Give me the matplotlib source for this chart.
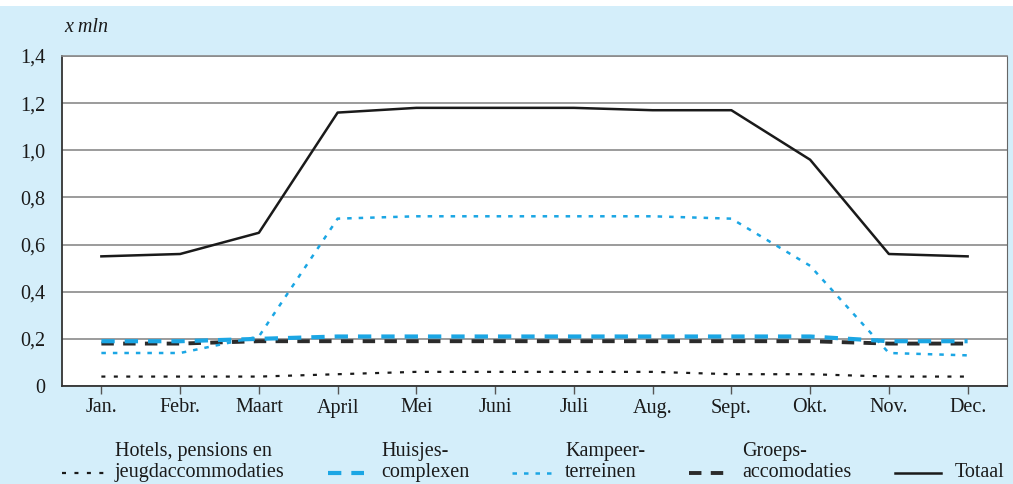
import numpy as np
import matplotlib.pyplot as plt
from matplotlib.lines import Line2D
from matplotlib.patches import Rectangle

# data (x mln)
months = ['Jan.', 'Febr.', 'Maart', 'April', 'Mei', 'Juni', 'Juli',
          'Aug.', 'Sept.', 'Okt.', 'Nov.', 'Dec.']
hotels = [0.04, 0.04, 0.04, 0.05, 0.06, 0.06, 0.06, 0.06, 0.05, 0.05, 0.04, 0.04]
huisjes = [0.19, 0.19, 0.20, 0.21, 0.21, 0.21, 0.21, 0.21, 0.21, 0.21, 0.19, 0.19]
kampeer = [0.14, 0.14, 0.21, 0.71, 0.72, 0.72, 0.72, 0.72, 0.71, 0.51, 0.14, 0.13]
groeps = [0.18, 0.18, 0.19, 0.19, 0.19, 0.19, 0.19, 0.19, 0.19, 0.19, 0.18, 0.18]
totaal = [0.55, 0.56, 0.65, 1.16, 1.18, 1.18, 1.18, 1.17, 1.17, 0.96, 0.56, 0.55]
yticks = [0, 0.2, 0.4, 0.6, 0.8, 1.0, 1.2, 1.4]
ylabels = ['0', '0,2', '0,4', '0,6', '0,8', '1,0', '1,2', '1,4']

plt.rcParams['font.family'] = ['Liberation Serif', 'DejaVu Serif']
fs = 14.5

bg = '#d4eefa'
blue = '#1ba6e4'
black = '#1a1a1a'

W, H = 1013, 484
fig = plt.figure(figsize=(W / 100, H / 100), dpi=100, facecolor=bg)
# white strip at the very top
fig.add_artist(Rectangle((0, 1 - 6 / H), 1, 6 / H, transform=fig.transFigure,
                         facecolor='white', edgecolor='none'))

ax = fig.add_axes([62 / W, 1 - 386 / H, (1007 - 62) / W, (386 - 56) / H])
ax.set_facecolor('white')

styles = {
    'hotels': dict(color=black, lw=1.6, linestyle=(0, (1.8, 3.8))),
    'huisjes': dict(color=blue, lw=3.0, linestyle=(0, (3.2, 2.4))),
    'kampeer': dict(color=blue, lw=1.8, linestyle=(0, (1.8, 2.8))),
    'groeps': dict(color='#2b2b2b', lw=2.8, linestyle=(0, (3.2, 2.4))),
    'totaal': dict(color=black, lw=1.8, linestyle='-'),
}

x = np.arange(len(months))
ax.plot(x, hotels, **styles['hotels'])
ax.plot(x, groeps, **styles['groeps'])
ax.plot(x, huisjes, **styles['huisjes'])
ax.plot(x, kampeer, **styles['kampeer'])
ax.plot(x, totaal, **styles['totaal'])

ax.set_xlim(-0.5, 11.5)
ax.set_ylim(0, 1.4)
ax.set_yticks(yticks)
ax.set_yticklabels(ylabels)
ax.set_xticks(x)
ax.set_xticklabels(months)
ax.tick_params(axis='x', length=6, width=1, color='#555555', pad=3,
               labelsize=fs, labelcolor=black)
ax.tick_params(axis='y', length=0, pad=12, labelsize=fs, labelcolor=black)
ax.grid(axis='y', color='#8a8a8a', lw=1.2)
ax.set_axisbelow(True)
for side in ['left', 'bottom']:
    ax.spines[side].set_color('#333333')
    ax.spines[side].set_linewidth(1.3)
ax.spines['right'].set_color('#666666')
ax.spines['top'].set_color('#8a8a8a')
ax.spines['top'].set_linewidth(1.2)

fig.text(64 / W, 1 - 28 / H, 'x mln', fontsize=fs, style='italic',
         va='center', ha='left', color=black)

# legend drawn by hand
legend = [
    ('hotels', 62, 107, 115, ['Hotels, pensions en', 'jeugdaccommodaties']),
    ('huisjes', 328, 364, 381, ['Huisjes-', 'complexen']),
    ('kampeer', 512, 556, 565, ['Kampeer-', 'terreinen']),
    ('groeps', 689, 724, 742, ['Groeps-', 'accomodaties']),
    ('totaal', 895, 941, 955, ['Totaal']),
]
for key, x0, x1, tx, lines in legend:
    fig.add_artist(Line2D([x0 / W, x1 / W], [1 - 473 / H, 1 - 473 / H],
                          transform=fig.transFigure, **styles[key]))
    base = 477 - 21 * (len(lines) - 1)
    for i, t in enumerate(lines):
        fig.text(tx / W, 1 - (base + 21 * i) / H, t, fontsize=fs,
                 ha='left', va='baseline', color=black)

fig.savefig('out.png', dpi=100, facecolor=bg)
